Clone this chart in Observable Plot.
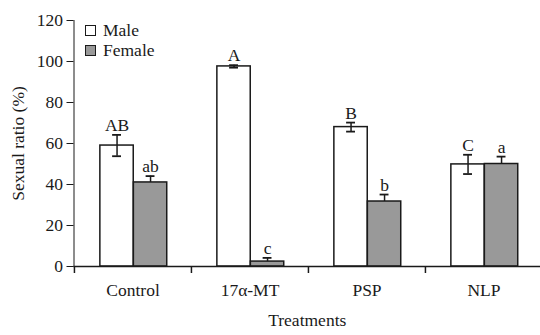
<!DOCTYPE html>
<html><head><meta charset="utf-8">
<script src="https://cdn.jsdelivr.net/npm/d3@7"></script>
<script src="https://cdn.jsdelivr.net/npm/@observablehq/plot@0.6"></script>
<style>
body{margin:0;background:#fff;}
#wrap{position:relative;width:540px;height:335px;font-family:"Liberation Serif","Times New Roman",serif;}
.legend{position:absolute;left:85px;top:20.5px;font-size:17.5px;color:#1a1a1a;}
.legend .item{display:flex;align-items:center;height:19.7px;}
.legend .sw{width:9px;height:9px;border:1.5px solid #1a1a1a;margin-right:7px;}
</style></head><body><div id="wrap"></div>
<script>
const treatments = ["Control", "17α-MT", "PSP", "NLP"];
const maleValues = [59, 97.6, 68, 49.8];
const maleErrors = [5.2, 0.6, 2.2, 4.7];
const femaleValues = [41, 2.4, 31.7, 50];
const femaleErrors = [3.1, 1.8, 3.4, 3.6];
const maleLetters = ["AB", "A", "B", "C"];
const femaleLetters = ["ab", "c", "b", "a"];
const yTicks = [0, 20, 40, 60, 80, 100, 120];
const seriesNames = ["Male", "Female"];
const seriesFills = ["#ffffff", "#999999"];

const W = 540, H = 335, ML = 73.5, MT = 20, MB = 69;
const xRange = [73.5, 542];
const bw = (xRange[1] - xRange[0]) / treatments.length;
const half = bw / 2;
const barW = 33.5;
const shift = 0.8;
const capW = 9;
const ink = "#1a1a1a";

const male = treatments.map((t, i) => ({treatment: t, v: maleValues[i], e: maleErrors[i], letter: maleLetters[i]}));
const female = treatments.map((t, i) => ({treatment: t, v: femaleValues[i], e: femaleErrors[i], letter: femaleLetters[i]}));

const mdx = -barW / 2 + shift, fdx = barW / 2 + shift;
const capInset = half - capW / 2;

const chart = Plot.plot({
  width: W, height: H,
  marginLeft: ML, marginRight: 0, marginTop: MT, marginBottom: MB,
  style: {fontFamily: '"Liberation Serif","Times New Roman",serif', fontSize: "17.5px", color: ink, background: "#fff"},
  x: {domain: treatments, range: xRange, padding: 0},
  y: {domain: [0, 120], ticks: yTicks, tickSize: 7, tickPadding: 4, line: true,
      label: "Sexual ratio (%)", labelArrow: false, labelAnchor: "center", labelOffset: 62},
  marks: [
    Plot.barY(male, {x: "treatment", y: "v", fill: seriesFills[0], stroke: ink, strokeWidth: 1.5,
      insetLeft: half - barW + shift, insetRight: half - shift}),
    Plot.barY(female, {x: "treatment", y: "v", fill: seriesFills[1], stroke: ink, strokeWidth: 1.5,
      insetLeft: half + shift, insetRight: half - barW - shift}),
    Plot.ruleX(male, {x: "treatment", y1: d => d.v - d.e, y2: d => d.v + d.e, dx: mdx, stroke: ink, strokeWidth: 1.5}),
    Plot.ruleX(female, {x: "treatment", y1: "v", y2: d => d.v + d.e, dx: fdx, stroke: ink, strokeWidth: 1.5}),
    Plot.tickY(male, {x: "treatment", y: d => d.v + d.e, dx: mdx, insetLeft: capInset, insetRight: capInset, stroke: ink, strokeWidth: 1.8}),
    Plot.tickY(male, {x: "treatment", y: d => d.v - d.e, dx: mdx, insetLeft: capInset, insetRight: capInset, stroke: ink, strokeWidth: 1.8}),
    Plot.tickY(female, {x: "treatment", y: d => d.v + d.e, dx: fdx, insetLeft: capInset, insetRight: capInset, stroke: ink, strokeWidth: 1.8}),
    Plot.text(male, {x: "treatment", y: d => d.v + d.e, text: "letter", dx: mdx, dy: -4, lineAnchor: "bottom", fill: ink, fontSize: 17.5}),
    Plot.text(female, {x: "treatment", y: d => d.v + d.e, text: "letter", dx: fdx, dy: -4, lineAnchor: "bottom", fill: ink, fontSize: 17.5}),
    Plot.ruleY([0], {stroke: ink, strokeWidth: 1.5}),
    Plot.axisX({tickSize: 7, tickFormat: () => "", dx: -half, stroke: ink, strokeWidth: 1.5, label: null}),
    Plot.axisX({tickSize: 0, tickPadding: 17, fontSize: 17.5, label: "Treatments", labelArrow: false, labelAnchor: "center", labelOffset: 59})
  ]
});

const wrap = document.getElementById("wrap");
wrap.appendChild(chart);
const legend = document.createElement("div");
legend.className = "legend";
seriesNames.forEach((name, i) => {
  const item = document.createElement("div");
  item.className = "item";
  const sw = document.createElement("span");
  sw.className = "sw";
  sw.style.background = seriesFills[i];
  const tx = document.createElement("span");
  tx.textContent = name;
  item.appendChild(sw); item.appendChild(tx);
  legend.appendChild(item);
});
wrap.appendChild(legend);
</script></body></html>
